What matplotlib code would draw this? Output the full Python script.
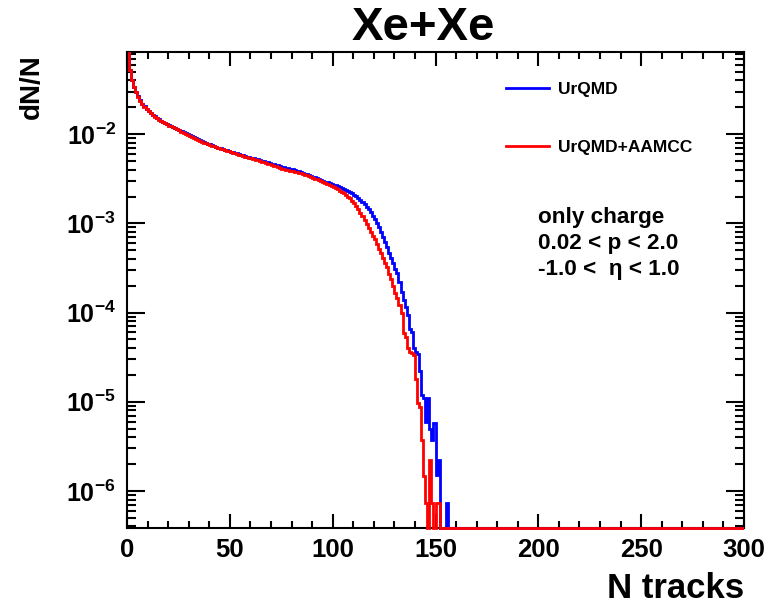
import numpy as np
import matplotlib
matplotlib.use("Agg")
import matplotlib.pyplot as plt
from matplotlib import ticker
from matplotlib.lines import Line2D
from matplotlib.patches import Rectangle

plt.rcParams["font.family"] = ["Liberation Sans", "DejaVu Sans"]
plt.rcParams["font.weight"] = "bold"
plt.rcParams["mathtext.fontset"] = "custom"
plt.rcParams["mathtext.rm"] = "Liberation Sans:bold"
plt.rcParams["mathtext.bf"] = "Liberation Sans:bold"
plt.rcParams["mathtext.default"] = "regular"

# Multiplicity distributions, dN/N per unit-width bin starting at N = 0
urqmd = [
    0.094, 0.053, 0.0405, 0.0342, 0.0297, 0.0265, 0.0240, 0.0220, 0.0205, 0.0192,
    0.0182, 0.0172, 0.0165, 0.0158, 0.0152, 0.0147, 0.0142, 0.0138, 0.0134, 0.0130,
    0.0126, 0.0123, 0.0120, 0.0117, 0.0114, 0.0111, 0.0108, 0.0105, 0.0102, 0.00995,
    0.00970, 0.00950, 0.00925, 0.00900, 0.00875, 0.00855, 0.00835, 0.00815, 0.00800, 0.00785,
    0.00770, 0.00755, 0.00740, 0.00722, 0.00707, 0.00695, 0.00683, 0.00671, 0.00660, 0.00649,
    0.00638, 0.00628, 0.00618, 0.00608, 0.00598, 0.00588, 0.00578, 0.00569, 0.00561, 0.00553,
    0.00545, 0.00537, 0.00529, 0.00521, 0.00512, 0.00504, 0.00496, 0.00489, 0.00482, 0.00475,
    0.00468, 0.00461, 0.00454, 0.00447, 0.00440, 0.00433, 0.00426, 0.00420, 0.00414, 0.00408,
    0.00402, 0.00396, 0.00390, 0.00383, 0.00376, 0.00369, 0.00362, 0.00355, 0.00348, 0.00341,
    0.00334, 0.00327, 0.00320, 0.00313, 0.00306, 0.00300, 0.00294, 0.00288, 0.00282, 0.00276,
    0.00271, 0.00266, 0.00261, 0.00256, 0.00251, 0.00245, 0.00239, 0.00232, 0.00225, 0.00217,
    0.00209, 0.00201, 0.00192, 0.00183, 0.00173, 0.00163, 0.00153, 0.00143, 0.00133, 0.00122,
    0.00111, 0.00100, 0.00090, 0.00080, 0.00071, 0.00062, 0.00054, 0.00047, 0.00041, 0.00036,
    0.00031, 0.00028, 0.00022, 0.00017, 0.000140, 0.000115, 0.000095, 0.000065, 0.000060, 0.000040,
    0.000036, 0.000034, 0.000022, 0.000012, 0.000011, 0.0000060, 0.0000110, 0.0000050, 0.0000037, 0.0000058,
    0.0000015, 0.0000022, 0.0, 0.0, 0.0, 0.00000073,
]

urqmd_aamcc = [
    0.095, 0.052, 0.0400, 0.0340, 0.0295, 0.0262, 0.0238, 0.0218, 0.0203, 0.0191,
    0.0180, 0.0171, 0.0164, 0.0157, 0.0151, 0.0146, 0.0141, 0.0137, 0.0133, 0.0129,
    0.0125, 0.0122, 0.0119, 0.0116, 0.0113, 0.0110, 0.0107, 0.0104, 0.0101, 0.00985,
    0.00960, 0.00940, 0.00915, 0.00890, 0.00865, 0.00845, 0.00825, 0.00805, 0.00790, 0.00775,
    0.00760, 0.00745, 0.00730, 0.00712, 0.00698, 0.00686, 0.00674, 0.00662, 0.00651, 0.00640,
    0.00630, 0.00620, 0.00610, 0.00600, 0.00590, 0.00580, 0.00570, 0.00560, 0.00552, 0.00543,
    0.00535, 0.00527, 0.00518, 0.00508, 0.00498, 0.00490, 0.00482, 0.00475, 0.00468, 0.00460,
    0.00452, 0.00444, 0.00436, 0.00426, 0.00418, 0.00412, 0.00406, 0.00400, 0.00395, 0.00390,
    0.00385, 0.00380, 0.00375, 0.00370, 0.00365, 0.00358, 0.00352, 0.00345, 0.00338, 0.00331,
    0.00325, 0.00318, 0.00311, 0.00304, 0.00298, 0.00292, 0.00285, 0.00278, 0.00271, 0.00264,
    0.00257, 0.00249, 0.00241, 0.00233, 0.00225, 0.00217, 0.00208, 0.00199, 0.00190, 0.00180,
    0.00169, 0.00157, 0.00145, 0.00132, 0.00120, 0.00108, 0.00098, 0.00089, 0.00081, 0.00073,
    0.00066, 0.00059, 0.00052, 0.00046, 0.00041, 0.00036, 0.00032, 0.00027, 0.00024, 0.00020,
    0.000165, 0.000145, 0.000120, 0.000098, 0.000059, 0.000053, 0.000040, 0.000036, 0.000035, 0.000033,
    0.000018, 0.0000096, 0.0000088, 0.0000037, 0.00000146, 0.00000073, 0.0, 0.0000022, 0.00000073, 0.0,
    0.00000073, 0.00000073, 0.0, 0.0, 0.0, 0.0,
]

n_bins = 300
edges = np.arange(n_bins + 1)
x_ticks = [0, 50, 100, 150, 200, 250, 300]
y_min, y_max = 3.84e-7, 0.0834

series_labels = ["UrQMD", "UrQMD+AAMCC"]
series_colors = ["#0000ff", "#ff0000"]


def full_hist(vals):
    h = np.zeros(n_bins)
    h[: len(vals)] = vals
    # empty bins sit on the lower frame edge, as in a log-scale histogram
    return np.where(h > 0, h, y_min)


fig = plt.figure(figsize=(7.70, 6.07), dpi=100)
ax = fig.add_axes([127 / 770, 79 / 607, 617 / 770, 476 / 607])

for vals, col in zip([urqmd, urqmd_aamcc], series_colors):
    sp = ax.stairs(full_hist(vals), edges, baseline=None, color=col, lw=2.0, zorder=3)
    # clip at the top of the frame but let the empty-bin line show on the bottom edge
    clip = Rectangle((0, -0.01), 1, 1.01, transform=ax.transAxes)
    sp.set_clip_path(clip)

ax.set_yscale("log")
ax.set_xlim(0, 300)
ax.set_ylim(y_min, y_max)

ax.set_xticks(x_ticks)
ax.xaxis.set_minor_locator(ticker.MultipleLocator(10))
ax.yaxis.set_major_locator(ticker.LogLocator(base=10, numticks=20))
ax.yaxis.set_minor_locator(ticker.LogLocator(base=10, subs=np.arange(2, 10), numticks=100))
ax.yaxis.set_minor_formatter(ticker.NullFormatter())
ax.yaxis.set_major_formatter(
    ticker.FuncFormatter(lambda v, p: r"$\mathbf{10^{%d}}$" % int(round(np.log10(v))))
)

for s in ax.spines.values():
    s.set_linewidth(1.5)

ax.tick_params(axis="both", which="both", direction="in", top=True, right=True, width=1.5)
ax.tick_params(axis="x", which="major", length=10, labelsize=18.5, pad=7)
ax.tick_params(axis="x", which="minor", length=5)
ax.tick_params(axis="y", which="major", length=13, labelsize=18, pad=8)
ax.tick_params(axis="y", which="minor", length=6.5)
for lab in ax.get_xticklabels():
    lab.set_fontweight("bold")

fig.text(423 / 770, 1 - 28 / 607, "Xe+Xe", ha="center", va="center",
         fontsize=34, fontweight="bold")
fig.text(744 / 770, 1 - 598 / 607, "N tracks", ha="right", va="baseline",
         fontsize=25, fontweight="bold")
fig.text(32 / 770, 1 - 54 / 607, "dN/N", ha="center", va="top", rotation=90,
         fontsize=20, fontweight="bold")

handles = [Line2D([], [], color=c, lw=2.0) for c in series_colors]
ax.legend(handles, series_labels, loc="upper left", frameon=False,
          bbox_to_anchor=(506 / 770, 1 - 82 / 607), bbox_transform=fig.transFigure,
          borderpad=0, borderaxespad=0, handlelength=2.45, handletextpad=0.55,
          labelspacing=2.45, prop={"size": 12.5, "weight": "bold"})

cut_lines = ["only charge", "0.02 < p < 2.0", "-1.0 <  η < 1.0"]
for i, t in enumerate(cut_lines):
    fig.text(538 / 770, 1 - (217 + 26 * i) / 607, t, ha="left", va="center",
             fontsize=16.2, fontweight="bold")

fig.savefig("out.png", dpi=100)
